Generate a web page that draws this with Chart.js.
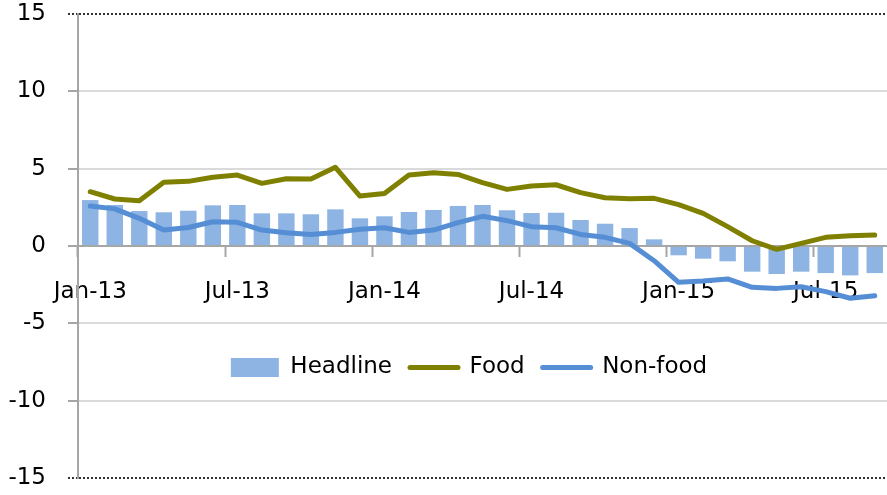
<!DOCTYPE html>
<html><head><meta charset="utf-8">
<script src="https://cdn.jsdelivr.net/npm/chart.js@4/dist/chart.umd.min.js"></script>
<style>html,body{margin:0;padding:0;background:#fff;overflow:hidden}#wrap{width:887px;height:495px}</style>
</head><body><div id="wrap"><canvas id="c" width="887" height="495"></canvas></div>
<script>
const categories = ['Jan-13','Feb-13','Mar-13','Apr-13','May-13','Jun-13','Jul-13','Aug-13','Sep-13','Oct-13','Nov-13','Dec-13',
  'Jan-14','Feb-14','Mar-14','Apr-14','May-14','Jun-14','Jul-14','Aug-14','Sep-14','Oct-14','Nov-14','Dec-14',
  'Jan-15','Feb-15','Mar-15','Apr-15','May-15','Jun-15','Jul-15','Aug-15','Sep-15'];
const headline = [2.97, 2.65, 2.26, 2.18, 2.28, 2.63, 2.65, 2.11, 2.11, 2.05, 2.37, 1.79,
  1.92, 2.2, 2.33, 2.59, 2.65, 2.31, 2.13, 2.15, 1.68, 1.44, 1.16, 0.43,
  -0.6, -0.82, -0.99, -1.66, -1.81, -1.66, -1.75, -1.9, -1.75];
const food = [3.51, 3.04, 2.93, 4.12, 4.18, 4.44, 4.59, 4.05, 4.35, 4.33, 5.09, 3.23,
  3.4, 4.59, 4.74, 4.63, 4.1, 3.66, 3.88, 3.96, 3.45, 3.12, 3.06, 3.08,
  2.68, 2.11, 1.25, 0.34, -0.22, 0.17, 0.56, 0.67, 0.71];
const nonFood = [2.59, 2.4, 1.79, 1.03, 1.2, 1.57, 1.53, 1.03, 0.85, 0.75, 0.88, 1.08,
  1.18, 0.88, 1.03, 1.51, 1.92, 1.64, 1.25, 1.18, 0.75, 0.56, 0.17, -0.95,
  -2.35, -2.26, -2.13, -2.67, -2.74, -2.63, -2.95, -3.38, -3.21];
const yTicks = [-15, -10, -5, 0, 5, 10, 15];
const seriesNames = ['Headline', 'Food', 'Non-food'];

Chart.defaults.font.family = "'DejaVu Sans', sans-serif";
Chart.defaults.color = '#000';

const isMajor = i => i >= 0 && i < categories.length && /^(Jan|Jul)/.test(categories[i]);

const legendInPlot = {
  id: 'legendInPlot',
  afterUpdate(chart) {
    const lg = chart.legend;
    if (!lg) return;
    const cx = 469, half = 443.5, top = 338;
    lg.left = cx - half; lg.right = cx + half; lg.width = 2 * half;
    lg.top = top; lg.height = 60; lg.bottom = top + 60;
  },
  afterDatasetDraw(chart, args) {
    if (args.index === 0) {
      const xs = chart.scales.x;
      if (xs && typeof xs.drawBorder === 'function') xs.drawBorder();
    }
  }
};

new Chart(document.getElementById('c'), {
  data: {
    labels: categories,
    datasets: [
      { type: 'bar', label: seriesNames[0], data: headline, backgroundColor: '#8DB4E2', borderWidth: 0,
        categoryPercentage: 1, barPercentage: 0.67, order: 2, pointStyle: 'rect' },
      { type: 'line', label: seriesNames[1], data: food, borderColor: '#808000', backgroundColor: '#808000',
        borderWidth: 5, pointRadius: 0, pointBorderWidth: 5, pointHoverRadius: 0, tension: 0, fill: false,
        order: 1, pointStyle: 'line', borderJoinStyle: 'round', borderCapStyle: 'round' },
      { type: 'line', label: seriesNames[2], data: nonFood, borderColor: '#558ED5', backgroundColor: '#558ED5',
        borderWidth: 5, pointRadius: 0, pointBorderWidth: 5, pointHoverRadius: 0, tension: 0, fill: false,
        order: 0, pointStyle: 'line', borderJoinStyle: 'round', borderCapStyle: 'round' }
    ]
  },
  options: {
    responsive: false,
    animation: false,
    devicePixelRatio: 1,
    layout: { padding: { top: 14, right: 0, bottom: 17, left: 0 } },
    plugins: {
      tooltip: { enabled: false },
      legend: {
        position: 'top',
        maxHeight: 0.001,
        labels: {
          usePointStyle: true, pointStyleWidth: 48, boxHeight: 19, padding: 18,
          font: { size: 23 }, color: '#000',
          sort: (a, b) => a.datasetIndex - b.datasetIndex,
          generateLabels: chart => Chart.defaults.plugins.legend.labels.generateLabels(chart).map(l => {
            if (l.pointStyle === 'line') l.lineCap = 'round';
            return l;
          })
        }
      }
    },
    scales: {
      x: {
        type: 'category',
        position: { y: 0 },
        offset: true,
        afterFit: s => { s.height = 0; s.paddingLeft = 0; s.paddingRight = 0; },
        ticks: {
          autoSkip: false, maxRotation: 0, minRotation: 0, color: '#000', font: { size: 23 }, padding: 22,
          callback: (v, i) => isMajor(i) ? categories[i] : ''
        },
        grid: {
          offset: true, drawOnChartArea: false, tickLength: 10, tickWidth: 2,
          tickColor: c => isMajor(c.index) ? '#A6A6A6' : 'rgba(0,0,0,0)'
        },
        border: { display: true, color: '#A6A6A6', width: 2 }
      },
      y: {
        min: -15, max: 15,
        afterBuildTicks: s => { s.ticks = yTicks.map(v => ({ value: v })); },
        afterFit: s => { s.width = 78; s.paddingTop = 0; s.paddingBottom = 0; },
        ticks: { color: '#000', font: { size: 23 }, padding: 22 },
        grid: {
          color: c => (c.tick && Math.abs(c.tick.value) === 15) ? '#333' : ((c.tick && c.tick.value === 0) ? '#A6A6A6' : '#DADADA'),
          lineWidth: 2,
          tickLength: 10,
          tickWidth: 2,
          tickColor: c => (c.tick && Math.abs(c.tick.value) === 15) ? '#333' : '#A6A6A6',
          tickBorderDash: c => (c.tick && Math.abs(c.tick.value) === 15) ? [2, 2] : []
        },
        border: {
          display: true, color: '#A6A6A6', width: 2,
          dash: c => (!c.tick || Math.abs(c.tick.value) === 15) ? [2, 2] : []
        }
      }
    }
  },
  plugins: [legendInPlot]
});
</script>
</body></html>
